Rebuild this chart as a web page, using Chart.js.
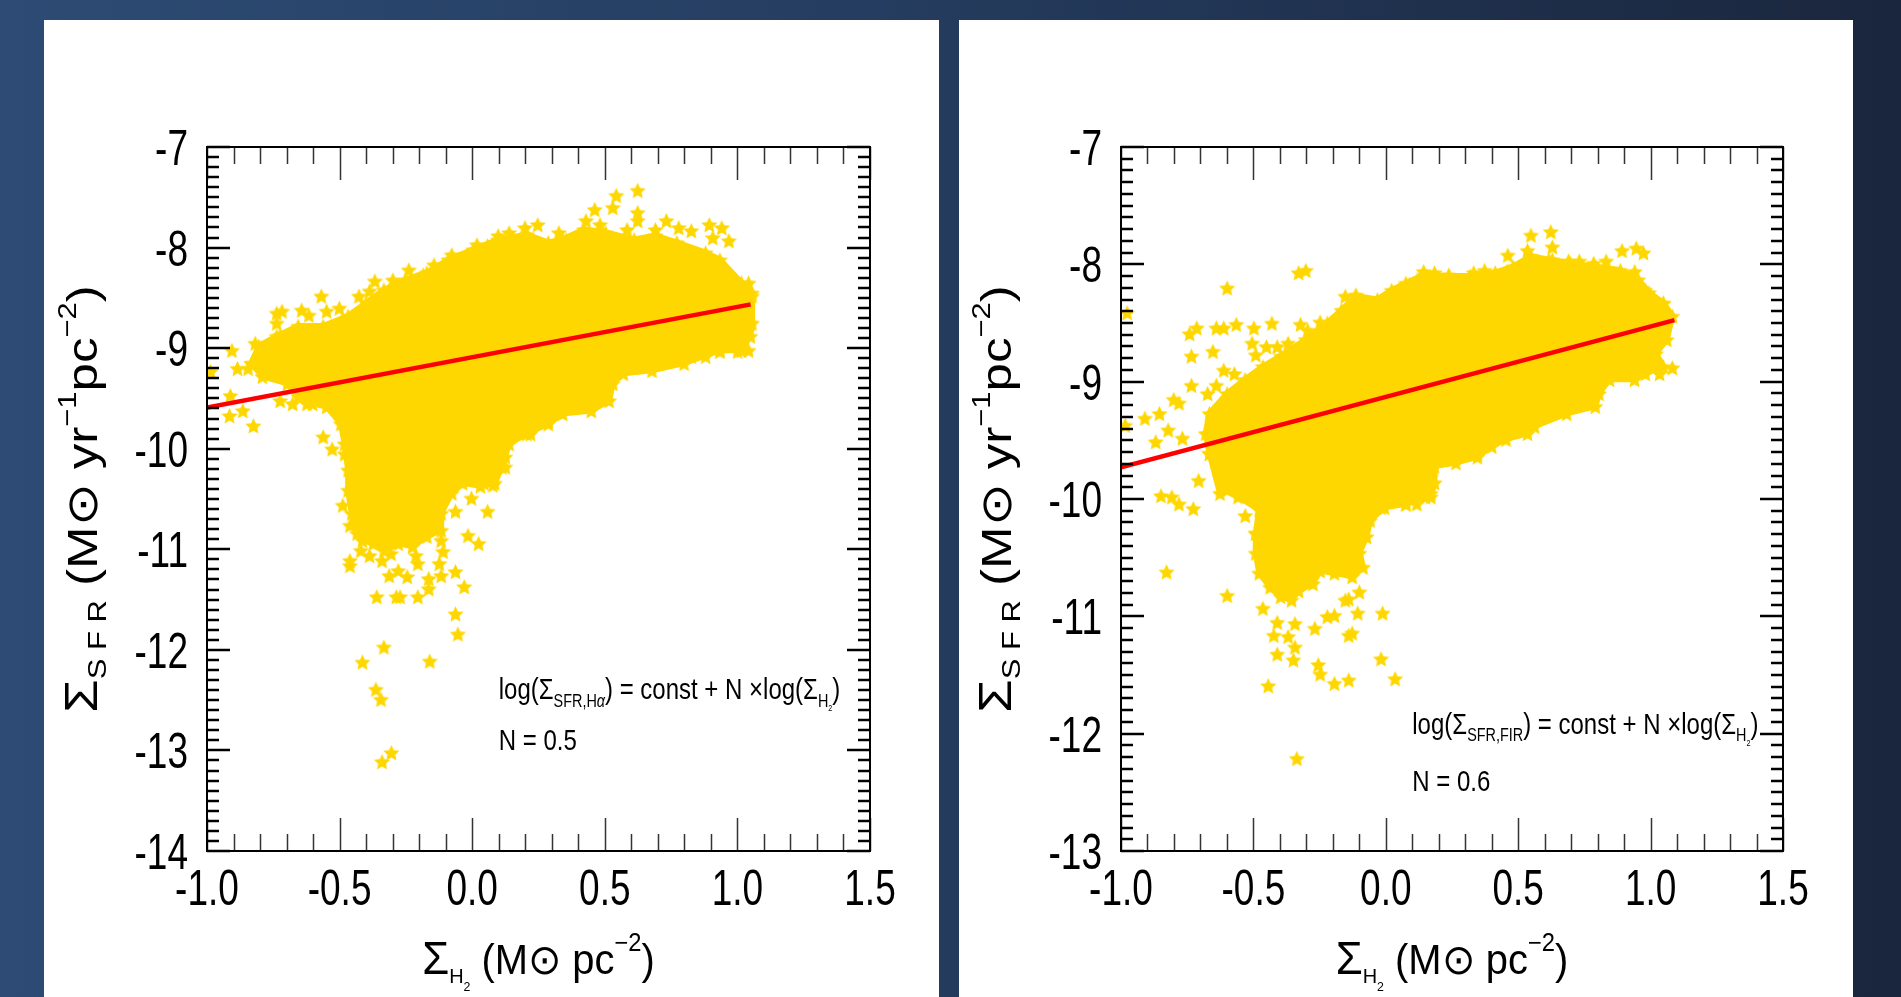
<!DOCTYPE html>
<html>
<head>
<meta charset="utf-8">
<title>Star formation law: Σ_SFR vs Σ_H2</title>
<script src="https://cdn.jsdelivr.net/npm/chart.js@4.4.1/dist/chart.umd.min.js"></script>
<style>
  html, body { margin: 0; padding: 0; }
  body {
    width: 1901px; height: 997px; overflow: hidden; position: relative;
    background: linear-gradient(90deg, #2d4b74 0%, #253d60 45%, #1a263d 100%);
  }
  .panel { position: absolute; top: 20px; height: 977px; background: #fff; }
  #panelHa { left: 44px; width: 895px; }
  #panelFir { left: 959px; width: 894px; }
  canvas { display: block; }
</style>
</head>
<body>
<div class="panel" id="panelHa"><canvas id="haChart" width="895" height="977"></canvas></div>
<div class="panel" id="panelFir"><canvas id="firChart" width="894" height="977"></canvas></div>
<script>
// axis ticks
const xTicks = [-1.0, -0.5, 0.0, 0.5, 1.0, 1.5];
const xTickLabels = ['-1.0', '-0.5', '0.0', '0.5', '1.0', '1.5'];
const haYTicks = [-14, -13, -12, -11, -10, -9, -8, -7];
const firYTicks = [-13, -12, -11, -10, -9, -8, -7];

// H-alpha panel: outline of the dense cloud of pixels (log Σ_H2, log Σ_SFR)
const haCloud = [
  [-0.832,-9.15],[-0.805,-8.98],[-0.737,-8.88],[-0.656,-8.78],[-0.562,-8.78],[-0.468,-8.68],
  [-0.400,-8.55],[-0.333,-8.42],[-0.252,-8.32],[-0.171,-8.25],[-0.090,-8.12],[0.004,-8.02],
  [0.098,-7.92],[0.206,-7.87],[0.287,-7.95],[0.341,-7.92],[0.422,-7.82],[0.503,-7.85],
  [0.611,-7.92],[0.691,-7.88],[0.772,-7.95],[0.880,-8.05],[0.934,-8.12],[1.015,-8.35],
  [1.055,-8.45],[1.055,-8.75],[1.049,-8.88],[1.015,-9.02],[0.934,-9.02],[0.799,-9.15],
  [0.678,-9.22],[0.570,-9.25],[0.530,-9.35],[0.516,-9.52],[0.449,-9.62],[0.341,-9.65],
  [0.287,-9.75],[0.206,-9.85],[0.139,-9.95],[0.112,-10.18],[0.085,-10.34],[0.031,-10.37],
  [-0.036,-10.34],[-0.077,-10.44],[-0.117,-10.64],[-0.117,-10.81],[-0.171,-10.87],[-0.225,-10.97],
  [-0.279,-10.94],[-0.333,-11.01],[-0.373,-10.94],[-0.414,-10.91],[-0.434,-10.84],[-0.454,-10.64],
  [-0.468,-10.41],[-0.468,-10.21],[-0.481,-9.95],[-0.495,-9.75],[-0.549,-9.58],[-0.602,-9.55],
  [-0.656,-9.48],[-0.697,-9.35],[-0.791,-9.28],[-0.832,-9.15]
];
// H-alpha panel: individual pixels around and outside the cloud
const haStars = [
  [-0.737,-8.65],[-0.717,-8.63],[-0.643,-8.62],[-0.616,-8.67],[-0.569,-8.48],[-0.549,-8.63],
  [-0.501,-8.60],[-0.427,-8.48],[-0.387,-8.43],[-0.367,-8.33],[-0.299,-8.32],[-0.239,-8.22],
  [-0.185,-8.27],[-0.144,-8.17],[-0.077,-8.07],[-0.036,-8.12],[0.018,-7.97],[0.058,-7.98],
  [0.098,-7.88],[0.139,-7.85],[0.199,-7.80],[0.247,-7.77],[0.327,-7.85],[0.354,-7.92],
  [0.429,-7.73],[0.462,-7.62],[0.482,-7.77],[0.543,-7.48],[0.530,-7.60],[0.624,-7.43],
  [0.624,-7.65],[0.624,-7.73],[0.584,-7.82],[0.691,-7.82],[0.732,-7.73],[0.779,-7.80],
  [0.826,-7.83],[0.894,-7.77],[0.941,-7.80],[0.968,-7.93],[0.907,-7.90],[1.042,-8.35],
  [1.055,-8.48],
  [-0.906,-9.02],[-0.987,-9.23],[-0.912,-9.47],[-0.915,-9.67],[-0.865,-9.62],[-0.825,-9.77],
  [-0.885,-9.20],[-0.845,-9.20],[-0.818,-8.95],[-0.737,-8.75],[-0.724,-8.87],[-0.677,-9.55],
  [-0.724,-9.52],[-0.623,-9.55],[-0.562,-9.88],[-0.528,-10.00],[-0.481,-10.05],
  [1.049,-8.75],[1.015,-8.83],[1.042,-9.02],[1.001,-9.03],[0.934,-9.03],[0.880,-9.08],
  [0.826,-9.08],[0.449,-9.55],[0.422,-9.58],[0.287,-9.72],[0.220,-9.85],[0.125,-10.08],
  [0.125,-10.18],
  [-0.488,-10.56],[-0.461,-10.76],[-0.461,-11.11],[-0.461,-11.16],[-0.420,-11.01],[-0.387,-11.06],
  [-0.340,-11.11],[-0.306,-11.04],[-0.313,-11.26],[-0.279,-11.21],[-0.245,-11.27],[-0.212,-11.06],
  [-0.205,-11.14],[-0.164,-11.29],[-0.164,-11.39],[-0.117,-11.26],[-0.124,-11.14],[-0.110,-11.02],
  [-0.117,-10.91],[-0.063,-11.22],[-0.030,-11.37],[-0.016,-10.86],[0.024,-10.94],[-0.063,-10.62],
  [0.058,-10.62],[-0.003,-10.49],[0.044,-10.34],[0.078,-10.36],[-0.360,-11.47],[-0.286,-11.47],
  [-0.272,-11.47],[-0.205,-11.47],[-0.063,-11.64],[-0.054,-11.84],[-0.333,-11.97],[-0.414,-12.12],
  [-0.160,-12.11],[-0.363,-12.39],[-0.344,-12.49],[-0.305,-13.02],[-0.340,-13.11]
];
// power-law fit, slope N = 0.5
const haFitX = [-1.0, 1.05];
const haFitY = [-9.59, -8.565];

// FIR panel: outline of the dense cloud
const firCloud = [
  [-0.666,-9.61],[-0.680,-9.44],[-0.666,-9.27],[-0.599,-9.10],[-0.531,-8.98],[-0.464,-8.87],
  [-0.396,-8.78],[-0.302,-8.64],[-0.221,-8.50],[-0.167,-8.39],[-0.113,-8.27],[-0.032,-8.30],
  [0.022,-8.22],[0.076,-8.16],[0.143,-8.09],[0.238,-8.10],[0.319,-8.10],[0.413,-8.07],
  [0.481,-8.02],[0.548,-7.93],[0.616,-7.96],[0.697,-7.99],[0.791,-8.02],[0.886,-8.05],
  [0.953,-8.13],[0.994,-8.24],[1.048,-8.33],[1.082,-8.44],[1.061,-8.64],[1.020,-8.76],
  [1.048,-8.87],[0.980,-8.93],[0.939,-8.98],[0.845,-8.98],[0.805,-9.10],[0.791,-9.21],
  [0.683,-9.27],[0.562,-9.38],[0.535,-9.44],[0.454,-9.49],[0.400,-9.55],[0.346,-9.64],
  [0.265,-9.69],[0.184,-9.72],[0.184,-9.86],[0.170,-9.98],[0.076,-10.04],[-0.005,-10.07],
  [-0.059,-10.18],[-0.073,-10.32],[-0.100,-10.46],[-0.086,-10.58],[-0.127,-10.66],[-0.194,-10.63],
  [-0.248,-10.61],[-0.275,-10.72],[-0.329,-10.78],[-0.356,-10.86],[-0.397,-10.83],[-0.437,-10.75],
  [-0.478,-10.63],[-0.491,-10.46],[-0.491,-10.29],[-0.478,-10.09],[-0.558,-9.98],[-0.599,-9.92],
  [-0.626,-9.95],[-0.666,-9.61]
];
// FIR panel: individual pixels
const firStars = [
  [-0.984,-9.37],[-0.977,-8.41],[-0.910,-9.31],[-0.869,-9.51],[-0.822,-9.41],[-0.768,-9.48],
  [-0.855,-9.27],[-0.801,-9.15],[-0.781,-9.18],[-0.734,-9.03],[-0.707,-9.84],[-0.653,-8.74],
  [-0.734,-8.78],[-0.741,-8.59],[-0.714,-8.54],[-0.640,-8.54],[-0.612,-8.54],[-0.565,-8.51],
  [-0.498,-8.54],[-0.430,-8.50],[-0.599,-8.20],[-0.329,-8.07],[-0.302,-8.05],[-0.612,-8.90],
  [-0.572,-8.93],[-0.673,-9.10],[-0.640,-9.03],[-0.505,-8.67],[-0.491,-8.77],[-0.451,-8.70],
  [-0.410,-8.70],[-0.369,-8.67],[-0.322,-8.51],[-0.295,-8.56],[-0.248,-8.49],[-0.153,-8.27],
  [-0.113,-8.26],[0.049,-8.22],[0.089,-8.17],[0.143,-8.06],[0.184,-8.07],[0.238,-8.09],
  [0.332,-8.07],[0.373,-8.05],[0.461,-7.92],[0.535,-7.88],[0.548,-7.75],[0.623,-7.72],
  [0.629,-7.85],[0.629,-7.96],[0.690,-7.97],[0.731,-7.97],[0.785,-7.99],[0.832,-7.97],
  [0.892,-7.88],[0.946,-7.86],[0.973,-7.90],[0.940,-8.06],[0.980,-8.22],[1.048,-8.33],
  [1.007,-8.87],[1.082,-8.88],[1.034,-8.93],[0.785,-9.15],[0.346,-9.61],[0.251,-9.66],
  [0.170,-9.81],[0.170,-9.95],[0.103,-9.92],
  [-0.849,-9.97],[-0.808,-9.98],[-0.781,-10.04],[-0.727,-10.08],[-0.531,-10.14],[-0.491,-10.29],
  [-0.828,-10.62],[-0.599,-10.82],[-0.464,-10.93],[-0.410,-11.05],[-0.423,-11.16],[-0.369,-11.17],
  [-0.343,-11.06],[-0.343,-11.26],[-0.410,-11.32],[-0.349,-11.37],[-0.268,-11.10],[-0.255,-11.41],
  [-0.248,-11.49],[-0.194,-11.57],[-0.140,-11.54],[-0.444,-11.59],[-0.336,-12.21],[-0.106,-10.97],
  [-0.012,-10.97],[-0.018,-11.36],[0.035,-11.53],[-0.127,-11.14],[-0.140,-11.16],[-0.221,-11.00],
  [-0.194,-10.99],[-0.100,-10.79],[-0.140,-10.85],[-0.153,-10.86],[0.022,-10.01],[0.076,-10.04],
  [0.117,-10.04],[0.150,-9.98],[-0.018,-10.07]
];
// power-law fit, slope N = 0.6
const firFitX = [-1.0, 1.09];
const firFitY = [-9.73, -8.476];

const GOLD = '#ffd700';
const FONT = '"Liberation Sans", Arial, Helvetica, sans-serif';

// filled five-point star used as the marker
function makeStar(r) {
  const c = document.createElement('canvas');
  const s = Math.ceil(r * 2) + 2;
  c.width = c.height = s;
  const g = c.getContext('2d');
  g.fillStyle = GOLD;
  g.beginPath();
  for (let i = 0; i < 10; i++) {
    const rad = i % 2 ? r * 0.48 : r;
    const a = -Math.PI / 2 + i * Math.PI / 5;
    g.lineTo(s / 2 + rad * Math.cos(a), s / 2 + 1 + rad * Math.sin(a));
  }
  g.closePath();
  g.fill();
  return c;
}
const starMarker = makeStar(8.5);

// text with sub/superscripts; parts = [{t, k: size factor, dy: shift factor, italic}]
function richText(ctx, parts, x, y, size, align, sx, angle, sy) {
  ctx.save();
  ctx.translate(x, y);
  if (angle) ctx.rotate(angle);
  ctx.scale(sx, sy || 1);
  ctx.fillStyle = '#000';
  ctx.textAlign = 'left';
  ctx.textBaseline = 'alphabetic';
  const fontOf = p => (p.italic ? 'italic ' : '') + Math.round(size * (p.k || 1)) + 'px ' + FONT;
  let total = 0;
  for (const p of parts) { ctx.font = fontOf(p); total += ctx.measureText(p.t).width; }
  let cx = align === 'center' ? -total / 2 : (align === 'right' ? -total : 0);
  for (const p of parts) {
    ctx.font = fontOf(p);
    ctx.fillText(p.t, cx, (p.dy || 0) * size);
    cx += ctx.measureText(p.t).width;
  }
  ctx.restore();
}

// ROOT-style frame: inward ticks on all four sides, labels and titles
const frameAxes = {
  id: 'frameAxes',
  afterDraw(chart, args, opts) {
    const {ctx, chartArea: a, scales: {x, y}} = chart;
    ctx.save();
    ctx.lineCap = 'butt';

    // x ticks, every 0.1, major every 0.5
    ctx.strokeStyle = '#333';
    ctx.lineWidth = 1.5;
    for (let i = -10; i <= 15; i++) {
      const px = Math.round(x.getPixelForValue(i / 10)) + 0.5;
      const len = i % 5 === 0 ? 33 : 17;
      ctx.beginPath();
      ctx.moveTo(px, a.bottom); ctx.lineTo(px, a.bottom - len);
      ctx.moveTo(px, a.top); ctx.lineTo(px, a.top + len);
      ctx.stroke();
    }
    // y ticks, every 0.1, major every 1
    ctx.strokeStyle = '#000';
    ctx.lineWidth = 2.5;
    for (let i = Math.round(y.min * 10); i <= Math.round(y.max * 10); i++) {
      const py = Math.round(y.getPixelForValue(i / 10));
      const len = i % 10 === 0 ? 23 : 12;
      ctx.beginPath();
      ctx.moveTo(a.left, py); ctx.lineTo(a.left + len, py);
      ctx.moveTo(a.right, py); ctx.lineTo(a.right - len, py);
      ctx.stroke();
    }
    // frame
    ctx.lineWidth = 2;
    ctx.strokeRect(a.left, a.top, a.right - a.left, a.bottom - a.top);
    ctx.restore();

    // tick labels
    xTicks.forEach((v, i) => {
      richText(ctx, [{t: xTickLabels[i]}], x.getPixelForValue(v), a.bottom + 54, 50, 'center', 0.74);
    });
    opts.yTicks.forEach(v => {
      richText(ctx, [{t: String(v)}], a.left - 19, y.getPixelForValue(v) + 18, 50, 'right', 0.74);
    });

    // axis titles
    richText(ctx, [
      {t: 'Σ', k: 1.1}, {t: 'H', k: 0.5, dy: 0.22}, {t: '2', k: 0.3, dy: 0.4},
      {t: ' (M⊙ pc'}, {t: '−2', k: 0.6, dy: -0.55}, {t: ')'}
    ], (a.left + a.right) / 2, a.bottom + 123, 42, 'center', 0.95);
    richText(ctx, [
      {t: 'Σ', k: 1.05}, {t: 'S F R', k: 0.6, dy: 0.2},
      {t: ' (M⊙ yr'}, {t: '−1', k: 0.6, dy: -0.5}, {t: 'pc'}, {t: '−2', k: 0.6, dy: -0.5}, {t: ')'}
    ], a.left - 110, (a.top + a.bottom) / 2, 51, 'center', 1, -Math.PI / 2, 0.84);

    // fit annotation
    const ax = x.getPixelForValue(0.1);
    richText(ctx, [
      {t: 'log(Σ'}, {t: opts.tracer, k: 0.6, dy: 0.25}, {t: opts.tracerTail, k: 0.6, dy: 0.25, italic: true},
      {t: ') = const + N ×log(Σ'}, {t: 'H', k: 0.6, dy: 0.25}, {t: '2', k: 0.3, dy: 0.4}, {t: ')'}
    ], ax, y.getPixelForValue(opts.noteY[0]), 30, 'left', 0.8);
    richText(ctx, [{t: 'N = ' + opts.slope}], ax, y.getPixelForValue(opts.noteY[1]), 30, 'left', 0.8);
  }
};

function buildPanel(id, cloud, stars, fitX, fitY, yMin, yTicks, padding, note) {
  const ctx = document.getElementById(id).getContext('2d');
  return new Chart(ctx, {
    type: 'scatter',
    data: {
      datasets: [
        {
          type: 'line',
          label: 'fit',
          data: fitX.map((v, i) => ({x: v, y: fitY[i]})),
          borderColor: '#ff0000',
          borderWidth: 4.5,
          pointRadius: 0,
          fill: false,
          order: 1
        },
        {
          label: 'pixels',
          data: stars.map(([px, py]) => ({x: px, y: py})),
          pointStyle: starMarker,
          pointRadius: 8,
          order: 2
        },
        {
          type: 'line',
          label: 'cloud',
          data: cloud.map(([px, py]) => ({x: px, y: py})),
          borderColor: GOLD,
          backgroundColor: GOLD,
          borderWidth: 6,
          fill: 'shape',
          tension: 0,
          pointStyle: starMarker,
          pointRadius: 8,
          order: 3
        }
      ]
    },
    options: {
      responsive: false,
      devicePixelRatio: 1,
      animation: false,
      events: [],
      layout: {padding: padding},
      scales: {
        x: {type: 'linear', display: false, min: -1, max: 1.5},
        y: {type: 'linear', display: false, min: yMin, max: -7}
      },
      plugins: {
        legend: {display: false},
        tooltip: {enabled: false},
        frameAxes: Object.assign({yTicks: yTicks}, note)
      }
    },
    plugins: [frameAxes]
  });
}

document.addEventListener('DOMContentLoaded', () => {
  buildPanel('haChart', haCloud, haStars, haFitX, haFitY, -14, haYTicks,
    {left: 163, top: 127, right: 69, bottom: 146},
    {tracer: 'SFR,H', tracerTail: 'α', slope: '0.5', noteY: [-12.49, -13.0]});
  buildPanel('firChart', firCloud, firStars, firFitX, firFitY, -13, firYTicks,
    {left: 162, top: 127, right: 70, bottom: 146},
    {tracer: 'SFR,FIR', tracerTail: '', slope: '0.6', noteY: [-12.0, -12.49]});
});
</script>
</body>
</html>
